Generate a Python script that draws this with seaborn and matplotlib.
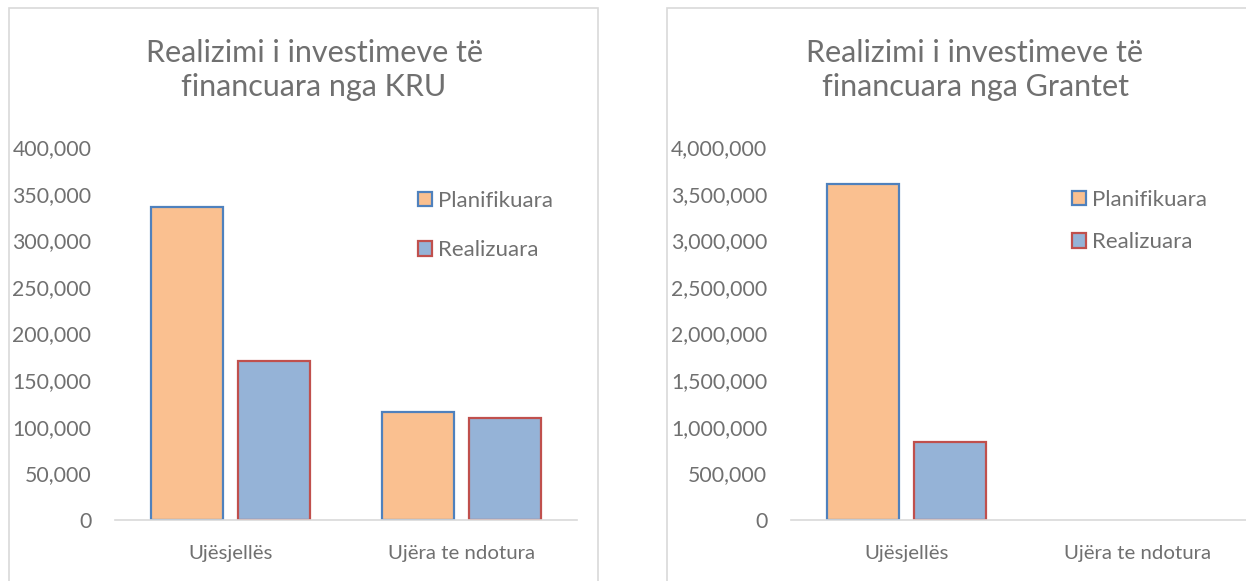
import pandas as pd
import matplotlib.pyplot as plt
import seaborn as sns
from matplotlib.patches import Patch, Rectangle
from matplotlib.ticker import FuncFormatter

# Te dhenat
kategorite = ["Ujësjellës", "Ujëra te ndotura"]
seri = ["Planifikuara", "Realizuara"]
kru_planifikuara = [336000, 116000]
kru_realizuara = [171000, 109500]
grante_planifikuara = [3600000, 0]
grante_realizuara = [840000, 0]

tituj = ["Realizimi i investimeve të\nfinancuara nga KRU",
         "Realizimi i investimeve të\nfinancuara nga Grantet"]

ngjyra_mbushje = {"Planifikuara": "#FAC090", "Realizuara": "#95B3D7"}
ngjyra_kufi = {"Planifikuara": "#4F81BD", "Realizuara": "#C0504D"}
gri = "#707070"

sns.set_theme(style="white")
plt.rcParams["font.family"] = ["Lato", "DejaVu Sans"]


def tabela(planif, realiz):
    rows = []
    for i, k in enumerate(kategorite):
        rows.append({"kategoria": k, "seria": "Planifikuara", "vlera": planif[i]})
        rows.append({"kategoria": k, "seria": "Realizuara", "vlera": realiz[i]})
    return pd.DataFrame(rows)


W, H = 1246, 581
fig = plt.figure(figsize=(W / 100, H / 100), dpi=100)

panels = [
    dict(df=tabela(kru_planifikuara, kru_realizuara), ymax=400000, step=50000,
         ax_left=115, box=(9, 598), title_x=314, leg=(407, 225.5), legsp=1.32),
    dict(df=tabela(grante_planifikuara, grante_realizuara), ymax=4000000, step=500000,
         ax_left=791, box=(667, 1300), title_x=975, leg=(1061, 221), legsp=1.0),
]

for p, titulli in zip(panels, tituj):
    ax = fig.add_axes([p["ax_left"] / W, (H - 520) / H, 462 / W, 373 / H])
    sns.barplot(data=p["df"], x="kategoria", y="vlera", hue="seria",
                hue_order=seri, order=kategorite, palette=ngjyra_mbushje,
                width=0.76, gap=0.18, saturation=1, legend=False, ax=ax)
    for cont, s in zip(ax.containers, seri):
        for bar in cont:
            bar.set_edgecolor(ngjyra_kufi[s])
            bar.set_linewidth(1.6 if bar.get_height() > 0 else 0)
    ax.set_xlim(-0.5, 1.5)
    ax.set_ylim(0, p["ymax"])
    ax.set_yticks(range(0, p["ymax"] + 1, p["step"]))
    ax.yaxis.set_major_formatter(FuncFormatter(lambda v, _: f"{v:,.0f}"))
    ax.set_xlabel("")
    ax.set_ylabel("")
    ax.tick_params(axis="y", length=0, pad=17, labelsize=15.3, labelcolor=gri)
    ax.tick_params(axis="x", length=0, pad=18, labelsize=14.7, labelcolor=gri)
    for s in ["top", "left", "right"]:
        ax.spines[s].set_visible(False)
    ax.spines["bottom"].set_color("#d9d9d9")
    ax.spines["bottom"].set_linewidth(1.2)

    fig.text(p["title_x"] / W, 1 - 70 / H, titulli, ha="center", va="center",
             fontsize=22, color=gri, linespacing=1.27)

    handles = [Patch(facecolor=ngjyra_mbushje[s], edgecolor=ngjyra_kufi[s],
                     linewidth=1.6, label=s) for s in seri]
    fig.legend(handles=handles, loc="center left",
               bbox_to_anchor=(p["leg"][0] / W, 1 - p["leg"][1] / H),
               frameon=False, fontsize=16, labelcolor=gri,
               handlelength=0.63, handleheight=0.63, handletextpad=0.27,
               labelspacing=p["legsp"], borderpad=0)

    x0, x1 = p["box"]
    fig.add_artist(Rectangle((x0 / W, -0.05), (x1 - x0) / W, 1.05 - 8 / H,
                             transform=fig.transFigure, fill=False,
                             edgecolor="#d9d9d9", linewidth=1.2))

fig.savefig("out.png", dpi=100)
